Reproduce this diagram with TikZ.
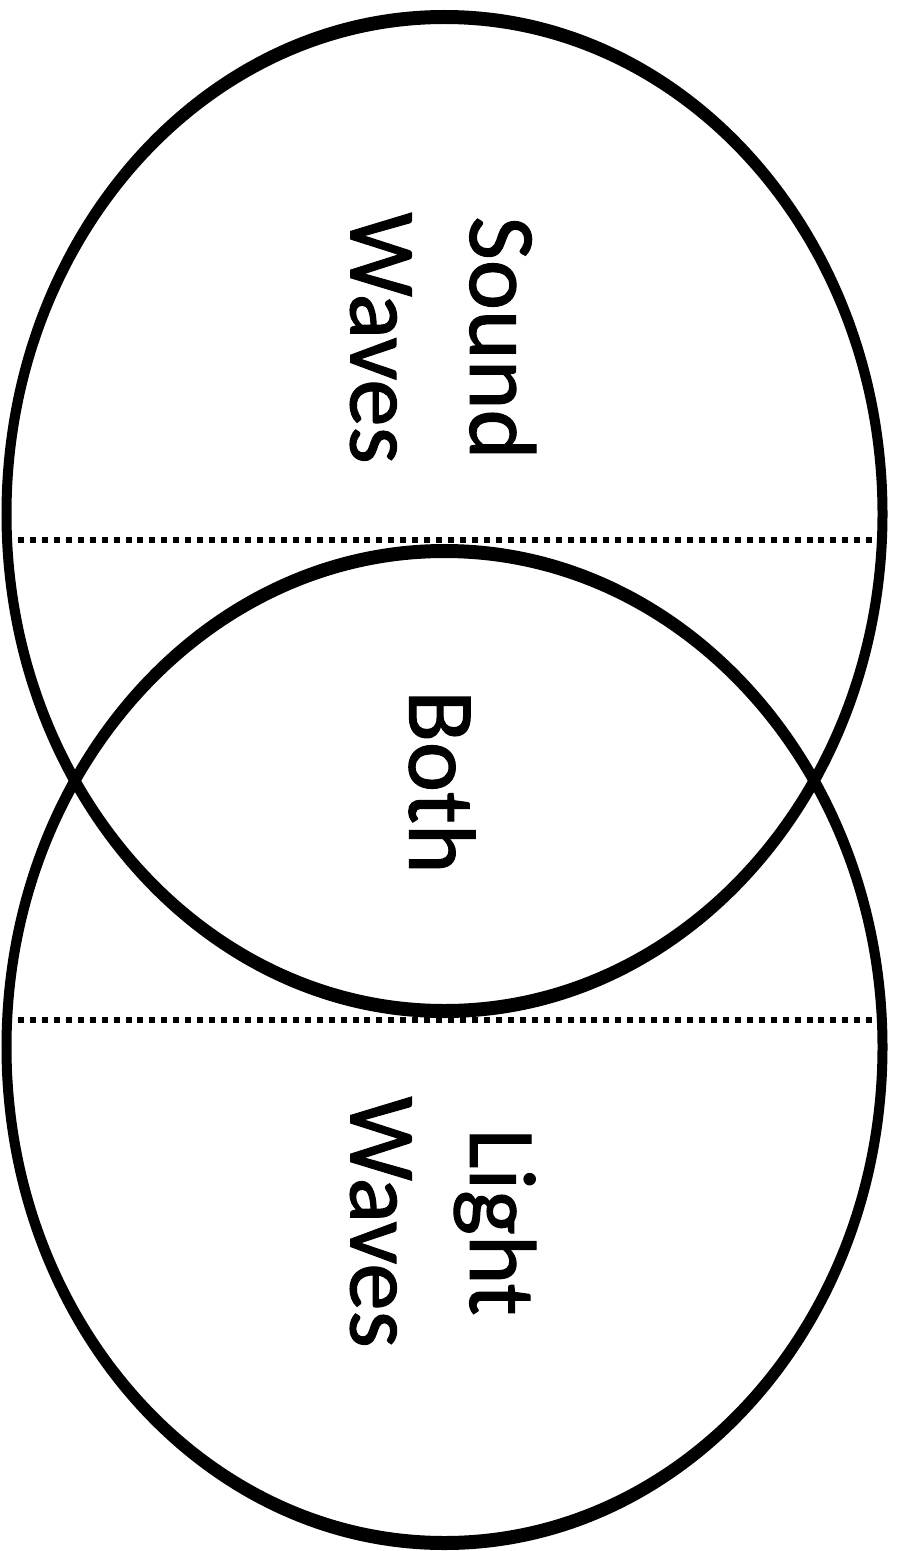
\documentclass[tikz,border=0pt]{standalone}
\usepackage{fontspec}
\setmainfont{Carlito}
\newfontfamily\ringfont{Carlito}[FakeBold=1.2]
\usetikzlibrary{positioning}
\tikzset{
  ring/.style={fill=black, even odd rule},
  divider/.style={draw=black, line width=3.6pt, dash pattern=on 3.4pt off 3.4pt},
  wavelabel/.style={rotate=-90, align=center, inner sep=0pt, font=\ringfont\fontsize{54}{68}\selectfont}
}

\begin{document}
\begin{tikzpicture}[x=0.02cm, y=-0.02cm]
  \useasboundingbox (0,0) rectangle (896,1551);

  % the two overlapping rings
  \fill[ring] (444.5,514) ellipse (443 and 504) (444.5,514) ellipse (433 and 490);
  \fill[ring] (444.5,1047) ellipse (443 and 503) (444.5,1047) ellipse (433 and 489);

  \coordinate (upperL) at (18,540);
  \coordinate (upperR) at (874,540);
  \coordinate (lowerL) at (18,1020);
  \coordinate (lowerR) at (874,1020);
  \draw[divider] (upperL) -- (upperR);
  \draw[divider] (lowerL) -- (lowerR);

  \node[wavelabel] (sound) at (443,338) {Sound\\Waves};
  \node[wavelabel] (both) at (442,782) {Both};
  \node[wavelabel] (light) at (443,1222) {Light\\Waves};
\end{tikzpicture}
\end{document}
